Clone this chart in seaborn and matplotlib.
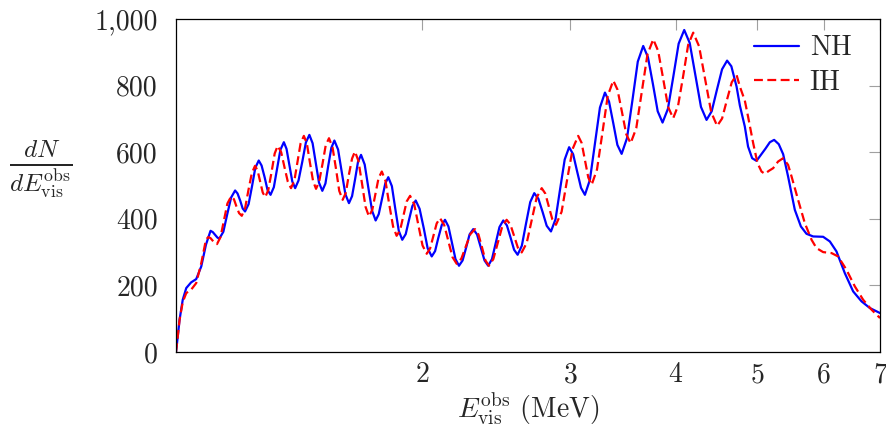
import matplotlib
matplotlib.use("Agg")
import matplotlib.pyplot as plt
import matplotlib.ticker as mticker
import pandas as pd
import seaborn as sns

# visible energy (MeV) and dN/dE
nh_energy = [1.019, 1.024, 1.029, 1.038, 1.048, 1.062, 1.077, 1.092, 1.106, 1.120,
             1.127, 1.134, 1.141, 1.147, 1.160, 1.172, 1.185, 1.198, 1.206, 1.215,
             1.223, 1.231, 1.243, 1.255, 1.266, 1.278, 1.288, 1.299, 1.309, 1.320,
             1.332, 1.344, 1.356, 1.369, 1.379, 1.390, 1.401, 1.412, 1.425, 1.440,
             1.454, 1.468, 1.481, 1.494, 1.507, 1.521, 1.534, 1.546, 1.559, 1.572,
             1.588, 1.604, 1.620, 1.636, 1.650, 1.664, 1.677, 1.691, 1.708, 1.725,
             1.743, 1.760, 1.775, 1.791, 1.807, 1.822, 1.840, 1.857, 1.875, 1.893,
             1.911, 1.928, 1.946, 1.964, 1.985, 2.008, 2.029, 2.052, 2.071, 2.089,
             2.109, 2.128, 2.148, 2.169, 2.190, 2.211, 2.233, 2.255, 2.276, 2.299,
             2.323, 2.347, 2.371, 2.395, 2.420, 2.445, 2.470, 2.496, 2.521, 2.546,
             2.571, 2.596, 2.626, 2.656, 2.687, 2.717, 2.748, 2.780, 2.811, 2.844,
             2.880, 2.916, 2.953, 2.989, 3.022, 3.054, 3.088, 3.121, 3.164, 3.208,
             3.252, 3.297, 3.334, 3.373, 3.411, 3.451, 3.502, 3.555, 3.607, 3.661,
             3.709, 3.760, 3.809, 3.860, 3.917, 3.976, 4.034, 4.096, 4.158, 4.223,
             4.288, 4.354, 4.416, 4.478, 4.543, 4.606, 4.660, 4.727, 4.770, 4.835,
             4.878, 4.933, 4.992, 5.052, 5.114, 5.178, 5.239, 5.306, 5.370, 5.443,
             5.544, 5.637, 5.724, 5.829, 5.991, 6.102, 6.214, 6.357, 6.504, 6.655,
             6.808, 7.0]
nh_counts = [0, 47, 97, 157, 192, 209, 219, 257, 322, 364,
             360, 352, 344, 340, 361, 412, 464, 485, 476, 454,
             431, 422, 444, 499, 553, 575, 560, 524, 487, 472,
             495, 551, 607, 630, 610, 561, 512, 492, 515, 572,
             629, 652, 627, 568, 509, 484, 506, 560, 613, 635,
             608, 541, 474, 447, 468, 520, 571, 592, 563, 494,
             424, 395, 414, 460, 506, 525, 498, 431, 364, 337,
             354, 396, 438, 455, 430, 371, 312, 287, 303, 342,
             381, 397, 377, 328, 279, 259, 275, 314, 353, 369,
             353, 314, 275, 259, 279, 327, 375, 395, 380, 344,
             307, 292, 319, 385, 450, 477, 460, 420, 379, 362,
             399, 489, 578, 615, 594, 544, 493, 472, 517, 626,
             734, 779, 752, 687, 622, 595, 642, 757, 872, 919,
             885, 804, 723, 689, 730, 828, 926, 967, 928, 832,
             736, 697, 723, 786, 849, 875, 858, 797, 740, 677,
             617, 582, 574, 592, 610, 630, 637, 624, 594, 527,
             427, 377, 355, 347, 346, 332, 302, 237, 182, 152,
             132, 117]

ih_energy = [1.019, 1.024, 1.029, 1.038, 1.048, 1.062, 1.077, 1.092, 1.106, 1.113,
             1.120, 1.127, 1.133, 1.140, 1.151, 1.162, 1.173, 1.185, 1.194, 1.202,
             1.211, 1.220, 1.231, 1.242, 1.254, 1.265, 1.274, 1.283, 1.292, 1.301,
             1.312, 1.324, 1.335, 1.346, 1.359, 1.371, 1.384, 1.396, 1.409, 1.421,
             1.433, 1.446, 1.458, 1.470, 1.483, 1.495, 1.508, 1.522, 1.535, 1.549,
             1.564, 1.579, 1.593, 1.608, 1.622, 1.635, 1.650, 1.663, 1.679, 1.696,
             1.712, 1.728, 1.744, 1.759, 1.774, 1.790, 1.808, 1.826, 1.846, 1.864,
             1.882, 1.899, 1.916, 1.934, 1.956, 1.978, 2.001, 2.024, 2.043, 2.061,
             2.080, 2.099, 2.123, 2.147, 2.172, 2.197, 2.225, 2.253, 2.281, 2.310,
             2.332, 2.355, 2.377, 2.400, 2.429, 2.459, 2.489, 2.519, 2.545, 2.571,
             2.598, 2.625, 2.661, 2.698, 2.735, 2.773, 2.800, 2.827, 2.855, 2.883,
             2.928, 2.972, 3.018, 3.064, 3.093, 3.121, 3.150, 3.179, 3.226, 3.274,
             3.322, 3.373, 3.412, 3.454, 3.495, 3.537, 3.592, 3.648, 3.704, 3.763,
             3.814, 3.867, 3.919, 3.974, 4.028, 4.085, 4.140, 4.198, 4.266, 4.338,
             4.410, 4.482, 4.543, 4.603, 4.665, 4.727, 4.770, 4.835, 4.878, 4.947,
             5.006, 5.061, 5.107, 5.164, 5.225, 5.296, 5.370, 5.443, 5.495, 5.594,
             5.698, 5.804, 5.883, 5.991, 6.131, 6.241, 6.386, 6.534, 6.684, 6.840,
             7.0]
ih_counts = [0, 47, 97, 150, 177, 187, 207, 267, 337, 345,
             342, 334, 327, 324, 345, 396, 446, 467, 459, 438,
             417, 409, 431, 484, 537, 559, 545, 512, 479, 465,
             487, 542, 596, 619, 600, 556, 511, 492, 515, 570,
             626, 649, 626, 570, 513, 490, 512, 566, 620, 642,
             615, 550, 484, 457, 478, 530, 581, 602, 574, 504,
             436, 407, 427, 474, 522, 542, 514, 446, 377, 349,
             366, 409, 452, 469, 444, 382, 320, 295, 311, 348,
             386, 402, 382, 334, 285, 265, 280, 317, 354, 369,
             353, 314, 275, 259, 279, 328, 377, 397, 383, 348,
             313, 299, 327, 396, 464, 492, 476, 437, 398, 382,
             421, 516, 610, 649, 628, 576, 524, 502, 548, 658,
             769, 815, 788, 721, 654, 627, 672, 783, 894, 939,
             904, 820, 736, 702, 740, 830, 922, 959, 918, 819,
             720, 679, 701, 756, 810, 832, 797, 755, 707, 627,
             567, 542, 535, 544, 552, 572, 582, 562, 527, 457,
             387, 337, 312, 300, 297, 287, 247, 197, 157, 127,
             102]

x_ticks = [2, 3, 4, 5, 6, 7]
y_ticks = [0, 200, 400, 600, 800, 1000]

sns.set_style("white")
plt.rcParams["font.family"] = "serif"
plt.rcParams["font.serif"] = ["cmr10", "DejaVu Serif"]
plt.rcParams["mathtext.fontset"] = "cm"
plt.rcParams["axes.formatter.use_mathtext"] = True

nh = pd.DataFrame({"E": nh_energy, "dNdE": nh_counts})
ih = pd.DataFrame({"E": ih_energy, "dNdE": ih_counts})

fig = plt.figure(figsize=(8.86, 4.37), dpi=100)
ax = fig.add_axes([176 / 886, 1 - 352 / 437, 704 / 886, 333 / 437])

sns.lineplot(data=nh, x="E", y="dNdE", ax=ax, color="#0000ff", lw=1.6,
             estimator=None, label="NH", solid_joinstyle="round")
sns.lineplot(data=ih, x="E", y="dNdE", ax=ax, color="#ff0000", lw=1.6,
             estimator=None, label="IH", dash_joinstyle="round")
ax.lines[1].set_dashes((4, 2))

ax.set_xscale("log")
ax.set_xlim(1.019, 7.0)
ax.set_ylim(0, 1000)
ax.xaxis.set_major_locator(mticker.FixedLocator(x_ticks))
ax.xaxis.set_minor_locator(mticker.NullLocator())
ax.xaxis.set_major_formatter(mticker.FuncFormatter(lambda v, p: f"{v:g}"))
ax.yaxis.set_major_locator(mticker.FixedLocator(y_ticks))
ax.yaxis.set_major_formatter(mticker.FuncFormatter(lambda v, p: f"{int(v):,}"))

ax.tick_params(axis="both", which="major", direction="in", length=8, width=0.8,
               color="#a0a0a0", labelsize=20, top=True, right=True)
ax.tick_params(axis="x", pad=7)
ax.tick_params(axis="y", pad=13)
for sp in ax.spines.values():
    sp.set_color("black")
    sp.set_linewidth(0.9)

ax.set_xlabel(r"$E_{\rm vis}^{\rm obs}$ (MeV)", fontsize=20, va="center")
ax.xaxis.set_label_coords(0.5, -0.17)
ax.set_ylabel(r"$\frac{dN}{dE_{\rm vis}^{\rm obs}}$", fontsize=26, rotation=0,
              ha="center", va="center")
ax.yaxis.set_label_coords(-0.192, 0.55)

leg = ax.legend(loc="upper right", bbox_to_anchor=(0.975, 0.985), frameon=False,
                fontsize=20, handlelength=1.6, handletextpad=0.4,
                labelspacing=0.3, borderaxespad=0)

fig.savefig("out.png", dpi=100)
